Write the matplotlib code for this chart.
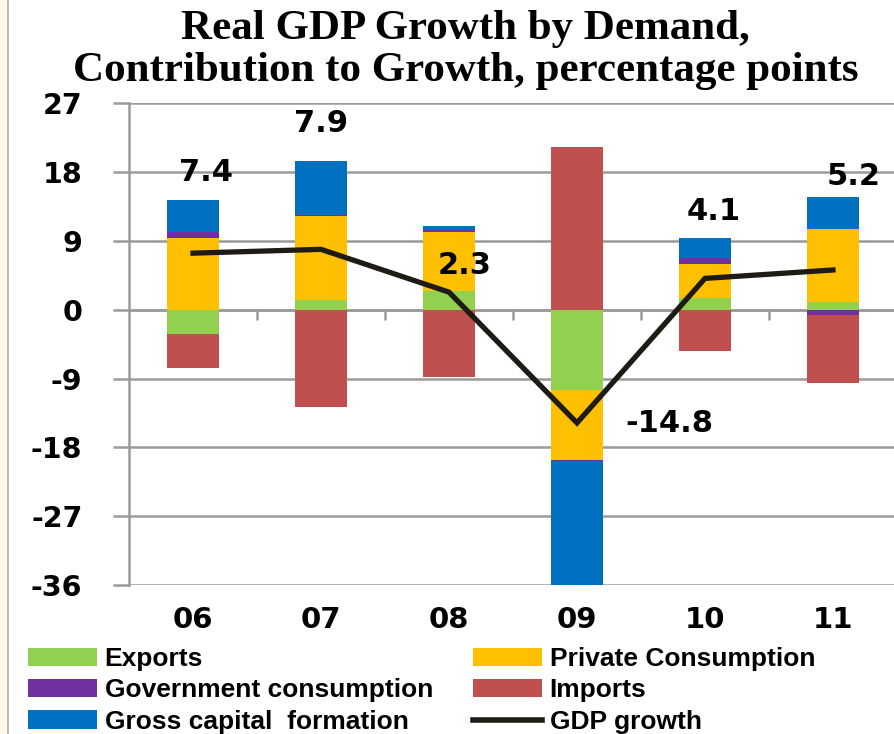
import numpy as np
import matplotlib.pyplot as plt
from matplotlib.patches import Patch, Rectangle
from matplotlib.lines import Line2D

plt.rcParams['axes.unicode_minus'] = False

# contributions to growth, percentage points
years       = ['06', '07', '08', '09', '10', '11']
exports     = [-3.2, 1.3, 2.4, -10.5, 1.5, 1.0]
private_con = [9.4, 10.9, 7.8, -9.1, 4.5, 9.5]
gov_con     = [0.8, 0.2, 0.2, -0.2, 0.8, -0.7]
gcf         = [4.2, 7.0, 0.5, -16.3, 2.6, 4.2]
imports     = [-4.4, -12.7, -8.8, 21.3, -5.4, -8.9]
gdp         = [7.4, 7.9, 2.3, -14.8, 4.1, 5.2]
gdp_labels  = ['7.4', '7.9', '2.3', '-14.8', '4.1', '5.2']

series = [('Exports', exports, '#92D050'),
          ('Private Consumption', private_con, '#FFC000'),
          ('Government consumption', gov_con, '#7030A0'),
          ('Gross capital  formation', gcf, '#0070C0'),
          ('Imports', imports, '#C0504D')]

grid_col = '#9a9a9a'
bold_font = ['DejaVu Sans']
leg_font = ['Liberation Sans Narrow', 'Liberation Sans', 'DejaVu Sans']

fig = plt.figure(figsize=(8.94, 7.34), dpi=100)
# cream strip on the left edge
fig.patches.append(Rectangle((0, 0), 8/894, 1, transform=fig.transFigure,
                             facecolor='#FFF8E6', edgecolor='none'))
fig.lines.append(Line2D([8/894, 8/894], [0, 1], transform=fig.transFigure,
                        color='#b0b0b0', lw=1.2))

ax = fig.add_axes([129/894, 149/734, 768/894, 481.7/734])
x = np.arange(len(years))
pos_base = np.zeros(len(years))
neg_base = np.zeros(len(years))
for name, vals, col in series:
    v = np.array(vals)
    bottom = np.where(v >= 0, pos_base, neg_base)
    ax.bar(x, v, width=0.4, bottom=bottom, color=col, zorder=3)
    pos_base = pos_base + np.where(v >= 0, v, 0)
    neg_base = neg_base + np.where(v < 0, v, 0)

ax.plot(x, gdp, color='#1E1A14', lw=3.8, zorder=5, solid_joinstyle='miter')

# data labels for GDP growth
lab_x = [0.1, 1.0, 2.12, 3.72, 4.07, 5.16]
lab_y = [17.9, 24.4, 5.8, -14.9, 12.9, 17.4]
for lx, ly, t in zip(lab_x, lab_y, gdp_labels):
    ax.text(lx, ly, t, ha='center', va='center', fontsize=22,
            fontweight='bold', family=bold_font, zorder=6)

ax.set_xlim(-0.5, len(years) - 0.5)
ax.set_ylim(-36, 27)
ax.set_yticks(np.arange(-36, 28, 9))
ax.yaxis.grid(True, color=grid_col, lw=1.8, zorder=0)
ax.set_axisbelow(True)
for s in ['top', 'right', 'bottom']:
    ax.spines[s].set_visible(False)
ax.spines['left'].set_color(grid_col)
ax.spines['left'].set_linewidth(1.8)
ax.axhline(0, color=grid_col, lw=1.8, zorder=2)
# category boundary ticks on the zero line
ax.vlines(x[:-1] + 0.5, -1.4, 0, color=grid_col, lw=1.8, zorder=2)

ax.tick_params(axis='y', direction='out', length=11.5, width=1.8,
               color=grid_col, pad=22, labelsize=20.5)
ax.tick_params(axis='x', length=0, pad=15, labelsize=21)
ax.set_xticks(x)
ax.set_xticklabels(years)
for lbl in ax.get_xticklabels() + ax.get_yticklabels():
    lbl.set_fontweight('bold')
    lbl.set_family(bold_font)

fig.text(0.521, 0.961, 'Real GDP Growth by Demand,', ha='center', va='center',
         fontsize=31, fontweight='bold', family='Liberation Serif')
fig.text(0.521, 0.903, 'Contribution to Growth, percentage points', ha='center',
         va='center', fontsize=31, fontweight='bold', family='Liberation Serif')

# legend in two columns
h = {name: Patch(facecolor=col, edgecolor='none') for name, _, col in series}
h['GDP growth'] = Line2D([], [], color='#1E1A14', lw=4)
col1 = ['Exports', 'Government consumption', 'Gross capital  formation']
col2 = ['Private Consumption', 'Imports', 'GDP growth']
for names, x0 in [(col1, 28/894), (col2, 473/894)]:
    fig.legend([h[n] for n in names], names, loc='upper left',
               bbox_to_anchor=(x0, 87/734), frameon=False, borderpad=0,
               borderaxespad=0, handlelength=2.6, handleheight=0.7,
               handletextpad=0.3, labelspacing=0.28,
               prop={'family': leg_font, 'size': 19, 'weight': 'bold'})

fig.savefig('out.png', dpi=100)
